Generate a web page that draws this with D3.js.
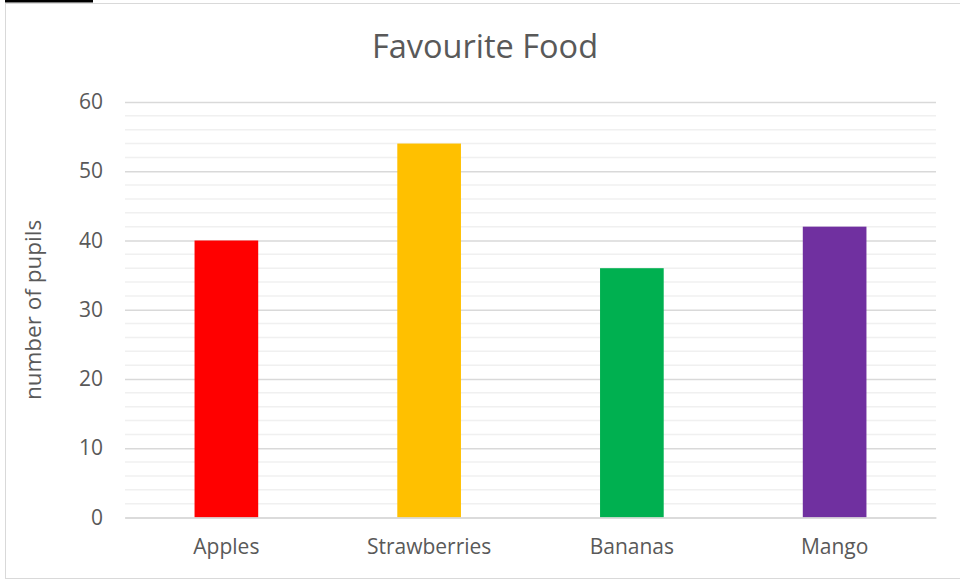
<!DOCTYPE html>
<html>
<head>
<meta charset="utf-8">
<script src="https://cdn.jsdelivr.net/npm/d3@7"></script>
<style>
  html, body { margin: 0; padding: 0; background: #ffffff; }
  svg { display: block; }
  text { font-family: "Open Sans", "Noto Sans", sans-serif; fill: #595959; }
</style>
</head>
<body>
<svg id="chart" width="960" height="579"></svg>
<script>
// Favourite food survey results
const categories = ["Apples", "Strawberries", "Bananas", "Mango"];
const pupils = [40, 54, 36, 42];
const barColors = ["#FF0000", "#FFC000", "#00B050", "#7030A0"];
const yTicks = [0, 10, 20, 30, 40, 50, 60];
const minorTicks = [2, 4, 6, 8, 12, 14, 16, 18, 22, 24, 26, 28, 32, 34, 36, 38, 42, 44, 46, 48, 52, 54, 56, 58];
const chartTitle = "Favourite Food";
const yTitle = "number of pupils";

const svg = d3.select("#chart");

// plot area bounds
const plot = { left: 125, right: 936, top: 102, bottom: 517.5 };

// small dark tab and outer chart frame
svg.append("rect").attr("x", 5).attr("y", 0).attr("width", 88).attr("height", 2.5).attr("fill", "#000");
svg.append("rect")
  .attr("x", 5.5).attr("y", 3.5).attr("width", 970).attr("height", 575)
  .attr("fill", "none").attr("stroke", "#d9d9d9").attr("stroke-width", 1);

const x = d3.scaleBand()
  .domain(categories)
  .range([plot.left, plot.right])
  .paddingInner(0.686)
  .paddingOuter(0.343);

const band = d3.scaleBand().domain(categories).range([plot.left, plot.right]);

const y = d3.scaleLinear().domain([0, 60]).range([plot.bottom, plot.top]);

// minor gridlines
svg.append("g").selectAll("line").data(minorTicks).join("line")
  .attr("x1", plot.left).attr("x2", plot.right)
  .attr("y1", d => y(d)).attr("y2", d => y(d))
  .attr("stroke", "#f0f0f0").attr("stroke-width", 1.5);

// major gridlines and value labels via axis
const yAxis = d3.axisLeft(y).tickValues(yTicks).tickSize(-(plot.right - plot.left)).tickPadding(22);
const gy = svg.append("g").attr("transform", `translate(${plot.left},0)`).call(yAxis);
gy.select(".domain").remove();
gy.selectAll(".tick line").attr("stroke", "#d9d9d9").attr("stroke-width", 1.5);
gy.selectAll(".tick text")
  .attr("font-family", "Open Sans").attr("font-size", 21).attr("fill", "#595959");

// bars
svg.append("g").selectAll("rect").data(pupils).join("rect")
  .attr("x", (d, i) => x(categories[i]))
  .attr("width", x.bandwidth())
  .attr("y", d => y(d))
  .attr("height", d => y(0) - y(d))
  .attr("fill", (d, i) => barColors[i]);

// category axis
const xAxis = d3.axisBottom(band).tickSize(0).tickPadding(22);
const gx = svg.append("g").attr("transform", `translate(0,${plot.bottom})`).call(xAxis);
gx.select(".domain").attr("stroke", "#d9d9d9").attr("stroke-width", 1.5);
gx.selectAll(".tick text")
  .attr("font-family", "Open Sans").attr("font-size", 21).attr("fill", "#595959");

// title
svg.append("text")
  .attr("x", 485).attr("y", 58)
  .attr("text-anchor", "middle")
  .attr("font-size", 32.5)
  .text(chartTitle);

// y-axis title
svg.append("text")
  .attr("transform", "translate(41,310) rotate(-90)")
  .attr("text-anchor", "middle")
  .attr("font-size", 22.5)
  .text(yTitle);
</script>
</body>
</html>
